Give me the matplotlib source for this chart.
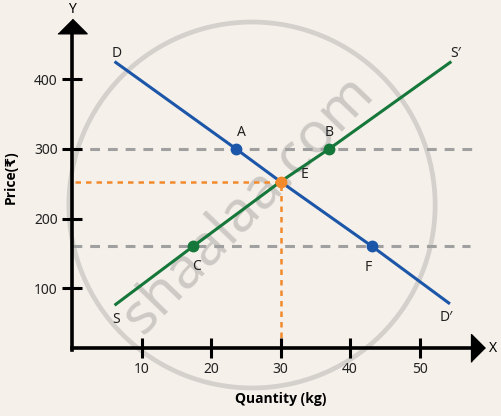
import matplotlib
matplotlib.use("Agg")
from matplotlib import pyplot
from matplotlib.patches import Ellipse

pyplot.rcParams['font.family'] = ['Noto Sans', 'DejaVu Sans']

# demand curve D -> D'
demand_q = [6.3, 23.6, 30.0, 43.2, 54.2]
demand_p = [424, 300, 253, 160, 79]
# supply curve S -> S'
supply_q = [6.3, 17.4, 30.0, 37.0, 54.4]
supply_p = [77, 160, 253, 300, 424]

# marked points
pt_names = ["A", "B", "C", "F"]
pt_q = [23.6, 37.0, 17.4, 43.2]
pt_p = [300, 300, 160, 160]
pt_color = ["blue", "green", "green", "blue"]
eq_q, eq_p = 30.0, 253

high_price, low_price = 300, 160
x_ticks = [10, 20, 30, 40, 50]
y_ticks = [100, 200, 300, 400]

BG = "#f5f0ea"
BLUE = "#1b56a8"
GREEN = "#16773a"
ORANGE = "#f28a2c"
GRAY = "#a0a0a0"
colors = {"blue": BLUE, "green": GREEN}
BOLD_FONT = ['Open Sans', 'Liberation Sans', 'DejaVu Sans']

fig = pyplot.figure(figsize=(5.02, 4.16), dpi=100, facecolor=BG)
ax = fig.add_axes([0, 0, 1, 1], facecolor=BG)
ax.set_xlim(-10.36, 61.87)
ax.set_ylim(-83.2, 513.6)

x_axis_at = 14.3

# watermark
ax.add_patch(Ellipse((25.9, 219.5), 52.7, 525, fill=False, lw=3.4,
                     ec="#d4d0cb", zorder=0))
ax.text(25.3, 220, "shaalaa.com", rotation=46, fontsize=41, color="#cdc9c5",
        ha="center", va="center", zorder=0.5)

# axes
for s in ["top", "right"]:
    ax.spines[s].set_visible(False)
ax.spines["left"].set_position(("data", 0))
ax.spines["bottom"].set_position(("data", x_axis_at))
ax.spines["left"].set_bounds(x_axis_at - 3, 470)
ax.spines["bottom"].set_bounds(0, 57.5)
for s in ["left", "bottom"]:
    ax.spines[s].set_linewidth(2.6)
    ax.spines[s].set_zorder(5)
ax.set_xticks(x_ticks)
ax.set_yticks(y_ticks)
ax.tick_params(direction="inout", length=14.4, width=2.2, labelsize=10,
               labelcolor="#222222")
ax.tick_params(axis="y", pad=3)
ax.tick_params(axis="x", pad=3)

# arrow heads
ax.plot([0], [476], marker=[(-1, -0.5), (1, -0.5), (0, 0.5)], ms=21,
        color="black", clip_on=False, zorder=6)
ax.plot([58.4], [x_axis_at], marker=[(-0.5, -1), (-0.5, 1), (0.5, 0)], ms=20,
        color="black", clip_on=False, zorder=6)
ax.annotate("Y", (0, 500), ha="center", va="center", fontsize=10)
ax.annotate("X", (60.6, x_axis_at), ha="center", va="center", fontsize=10)

ax.text(0.022, 0.575, "Price(₹)", rotation=90, transform=ax.transAxes,
        ha="center", va="center", fontsize=10, fontweight="bold",
        family=BOLD_FONT)
ax.text(0.56, 0.04, "Quantity (kg)", transform=ax.transAxes,
        ha="center", va="center", fontsize=10, fontweight="bold",
        family=BOLD_FONT)

# guide lines
ax.plot([0, 58], [high_price, high_price], ls=(0, (3.2, 2.6)), lw=2.2,
        color=GRAY, zorder=1)
ax.plot([0, 57.3], [low_price, low_price], ls=(0, (3.2, 2.6)), lw=2.2,
        color=GRAY, zorder=1)
ax.plot([0.4, eq_q], [eq_p, eq_p], ls=(0, (2.2, 2)), lw=1.8, color=ORANGE,
        zorder=1)
ax.plot([eq_q, eq_q], [x_axis_at, eq_p], ls=(0, (2.2, 2)), lw=1.8,
        color=ORANGE, zorder=1)

# curves
ax.plot(demand_q, demand_p, color=BLUE, lw=2.2, zorder=3)
ax.plot(supply_q, supply_p, color=GREEN, lw=2.2, zorder=3)

for n, q, p, c in zip(pt_names, pt_q, pt_p, pt_color):
    ax.plot(q, p, "o", ms=7.5, color=colors[c], zorder=4)
ax.plot(eq_q, eq_p, "o", ms=7.5, color=ORANGE, zorder=4)

# labels
def lab(txt, q, p, dx, dy):
    ax.annotate(txt, (q, p), xytext=(dx, dy), textcoords="offset pixels",
                ha="center", va="center", fontsize=10, color="#222222")

lab("A", pt_q[0], pt_p[0], 5, 16)
lab("B", pt_q[1], pt_p[1], 0, 16)
lab("C", pt_q[2], pt_p[2], 4, -20)
lab("F", pt_q[3], pt_p[3], -4, -21)
lab("E", eq_q, eq_p, 24, 7)
lab("D", demand_q[0], demand_p[0], 1, 9)
lab("D′", demand_q[-1], demand_p[-1], -2, -15)
lab("S", supply_q[0], supply_p[0], 0, -15)
lab("S′", supply_q[-1], supply_p[-1], 6, 9)

fig.savefig("out.png", dpi=100, facecolor=BG)
